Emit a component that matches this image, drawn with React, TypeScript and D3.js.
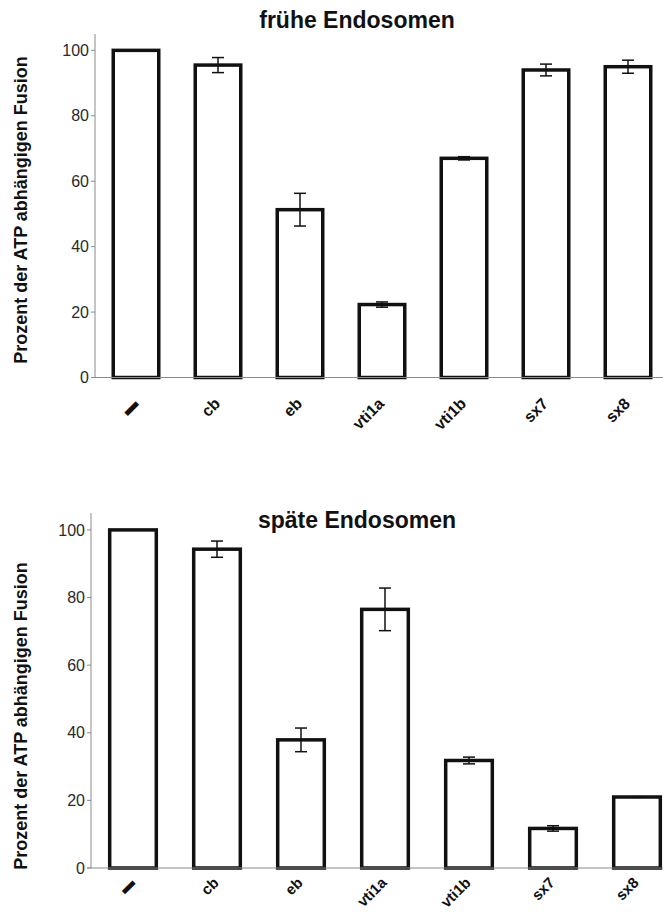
import React, { useEffect, useRef } from 'react';
import * as d3 from 'd3';

const categories = ['▬', 'cb', 'eb', 'vti1a', 'vti1b', 'sx7', 'sx8'];

const earlyValues = [100, 95.5, 51.3, 22.3, 67, 94, 95];
const earlyErrors = [0, 2.3, 5, 0.8, 0.5, 1.8, 2];

const lateValues = [100, 94.3, 37.9, 76.5, 31.8, 11.7, 21];
const lateErrors = [0, 2.4, 3.5, 6.3, 1, 0.8, 0.1];

const yTicks = [0, 20, 40, 60, 80, 100];

const titles = ['frühe Endosomen', 'späte Endosomen'];
const yLabel = 'Prozent der ATP abhängigen Fusion';

const FONT = "'Liberation Sans', Arial, sans-serif";

const panels = [
    { title: titles[0], values: earlyValues, errors: earlyErrors, left: 95, right: 669, base: 377.5, top: 34, titleY: 28, labelY: 210, xlabDy: 19, xlabSize: 16 },
    { title: titles[1], values: lateValues, errors: lateErrors, left: 91, right: 679, base: 868, top: 513, titleY: 528, labelY: 716, xlabDy: 8, xlabSize: 15 }
];

const App = () => {
    const svgRef = useRef<SVGSVGElement>(null);

    useEffect(() => {
        const svg = d3.select(svgRef.current);
        svg.selectAll('*').remove();

        panels.forEach(p => {
            const g = svg.append('g');

            const x = d3
                .scaleBand()
                .domain(categories)
                .range([p.left, p.right])
                .paddingInner(0.445)
                .paddingOuter(0.2225);

            const y = d3.scaleLinear().domain([0, 105]).range([p.base, p.top]);

            // y axis
            g.append('line')
                .attr('x1', p.left)
                .attr('x2', p.left)
                .attr('y1', p.top)
                .attr('y2', p.base)
                .attr('stroke', '#8a8a8a')
                .attr('stroke-width', 1);

            g.selectAll('.ytick')
                .data(yTicks)
                .enter()
                .append('line')
                .attr('x1', p.left - 4)
                .attr('x2', p.left)
                .attr('y1', d => y(d))
                .attr('y2', d => y(d))
                .attr('stroke', '#8a8a8a');

            g.selectAll('.ylab')
                .data(yTicks)
                .enter()
                .append('text')
                .attr('x', p.left - 6)
                .attr('y', d => y(d))
                .attr('dy', '0.35em')
                .attr('text-anchor', 'end')
                .style('font-family', FONT)
                .style('font-size', '16px')
                .style('fill', '#2a2a2a')
                .text(d => d);

            // bars
            g.selectAll('.bar')
                .data(p.values)
                .enter()
                .append('rect')
                .attr('x', (d, i) => x(categories[i]))
                .attr('y', d => y(d))
                .attr('width', x.bandwidth())
                .attr('height', d => p.base - y(d))
                .attr('fill', 'white')
                .attr('stroke', '#111')
                .attr('stroke-width', 3.5);

            // x axis line
            g.append('line')
                .attr('x1', p.left - 4)
                .attr('x2', 663)
                .attr('y1', p.base)
                .attr('y2', p.base)
                .attr('stroke', '#8a8a8a');

            // error bars
            p.values.forEach((v, i) => {
                const e = p.errors[i];
                if (!e) return;
                const cx = x(categories[i]) + x.bandwidth() / 2;
                const eg = g.append('g').attr('stroke', '#111').attr('stroke-width', 1.5);
                eg.append('line').attr('x1', cx).attr('x2', cx).attr('y1', y(v + e)).attr('y2', y(v - e));
                eg.append('line').attr('x1', cx - 6).attr('x2', cx + 6).attr('y1', y(v + e)).attr('y2', y(v + e));
                eg.append('line').attr('x1', cx - 6).attr('x2', cx + 6).attr('y1', y(v - e)).attr('y2', y(v - e));
            });

            // x tick labels
            g.selectAll('.xlab')
                .data(categories)
                .enter()
                .append('text')
                .attr('transform', d => `translate(${x(d) + x.bandwidth() / 2 - 5}, ${p.base + p.xlabDy}) rotate(-45)`)
                .attr('text-anchor', 'end')
                .attr('dy', '0.72em')
                .style('font-family', FONT)
                .style('font-size', `${p.xlabSize}px`)
                .style('font-weight', 'bold')
                .style('fill', '#111')
                .text(d => d);

            // title
            g.append('text')
                .attr('x', 357)
                .attr('y', p.titleY)
                .attr('text-anchor', 'middle')
                .style('font-family', FONT)
                .style('font-size', '23px')
                .style('font-weight', 'bold')
                .style('fill', '#111')
                .text(p.title);

            // y label
            g.append('text')
                .attr('transform', `translate(27, ${p.labelY}) rotate(-90)`)
                .attr('text-anchor', 'middle')
                .style('font-family', FONT)
                .style('font-size', '18px')
                .style('font-weight', 'bold')
                .style('fill', '#111')
                .text(yLabel);
        });
    }, []);

    return (
        <div style={{ position: 'absolute', left: 0, top: 0 }}>
            <svg ref={svgRef} width={663} height={913} style={{ display: 'block', background: 'white' }} />
        </div>
    );
};

export default App;
